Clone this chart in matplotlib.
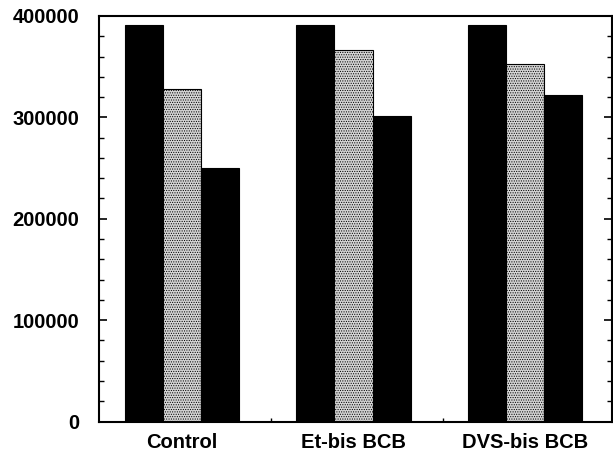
import matplotlib
matplotlib.use("Agg")
import matplotlib.pyplot as plt
import numpy as np
from matplotlib.ticker import MultipleLocator, FixedLocator

categories = ["Control", "Et-bis BCB", "DVS-bis BCB"]
series1 = [391000, 391000, 391000]
series2 = [327500, 366000, 353000]
series3 = [250000, 301000, 322000]
ytick_labels = ["0", "100000", "200000", "300000", "400000"]

plt.rcParams['font.family'] = ['Liberation Sans', 'DejaVu Sans']
plt.rcParams['hatch.color'] = '#8a8a8a'
plt.rcParams['hatch.linewidth'] = 0.5

fig = plt.figure(figsize=(6.13, 4.53), dpi=100)
ax = fig.add_axes([99/613, 31.5/453, 513/613, 405.5/453])

x = np.arange(len(categories))
w = 0.222
ax.bar(x - w, series1, w, color='black', edgecolor='black', linewidth=0.8)
ax.bar(x, series2, w, color='#d4d4d4', edgecolor='black', linewidth=0.8, hatch='.......')
ax.bar(x + w, series3, w, color='black', edgecolor='black', linewidth=0.8)

ax.set_xlim(-0.484, 2.507)
ax.set_ylim(0, 400000)

yt = [0, 100000, 200000, 300000, 400000]
ax.set_yticks(yt)
ax.set_yticklabels(ytick_labels, fontsize=14.5, fontweight='bold')
ax.yaxis.set_minor_locator(MultipleLocator(20000))
ax.tick_params(axis='y', which='major', direction='in', length=6, width=1.2, pad=14, right=True)
ax.tick_params(axis='y', which='minor', direction='in', length=3.5, width=1, right=True)

ax.set_xticks(x)
ax.set_xticklabels(categories, fontsize=14.5, fontweight='bold')
ax.xaxis.set_minor_locator(FixedLocator([0.52, 1.52]))
ax.tick_params(axis='x', which='major', length=0, pad=8)
ax.tick_params(axis='x', which='minor', direction='in', length=3, width=1)

for s in ax.spines.values():
    s.set_linewidth(1.5)

fig.savefig("out.png", dpi=100)
